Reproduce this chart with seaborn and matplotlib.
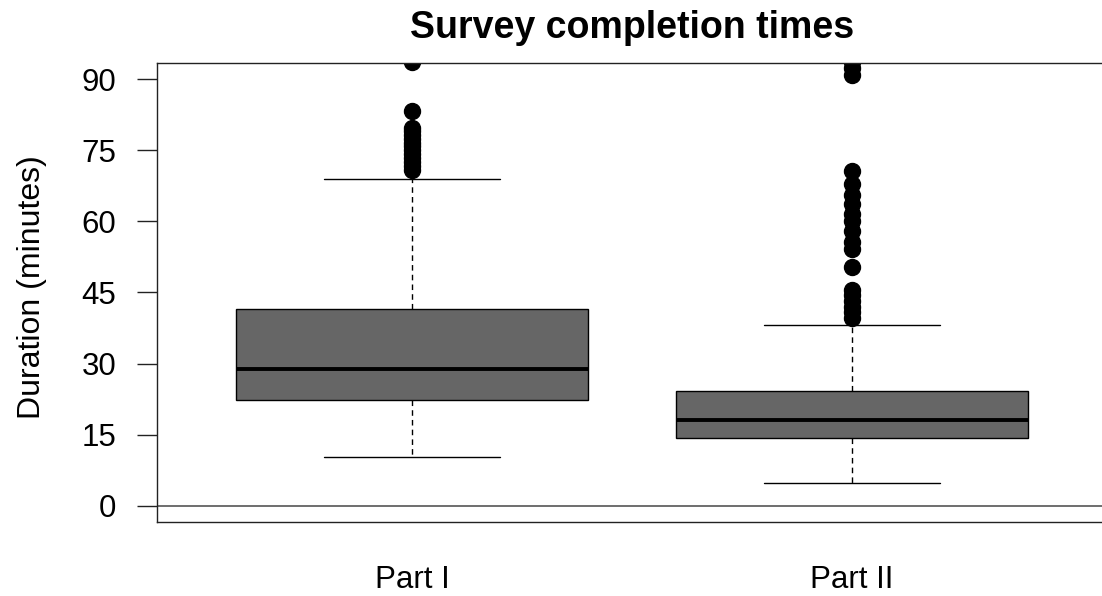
import matplotlib
matplotlib.use("Agg")
import matplotlib.pyplot as plt
import pandas as pd
import seaborn as sns

# Survey parts shown on the x axis
categories = ["Part I", "Part II"]

# Completion times in minutes, Part I
part_i_body = [
    10.3, 12.4, 13.9, 15.0, 15.8, 16.5, 17.1, 17.7, 18.3, 18.9, 19.4, 19.9,
    20.5, 21.0, 21.5, 21.9, 22.3, 22.7, 23.1, 23.5, 23.9, 24.3, 24.7, 25.1,
    25.5, 25.9, 26.4, 26.9, 27.4, 27.8, 28.2, 28.6, 28.9, 29.5, 30.2, 30.9,
    31.6, 32.4, 33.2, 34.0, 34.8, 35.6, 36.5, 37.4, 38.3, 39.2, 40.1, 40.9,
    41.5, 55.0, 68.9,
]
part_i_outliers = [
    70.9, 71.7, 72.5, 73.3, 74.1, 75.0, 75.8, 76.6, 77.4, 78.2, 79.0, 79.7,
    83.3, 93.6,
]

# Completion times in minutes, Part II
part_ii_body = [
    4.8, 6.8, 7.9, 8.7, 9.3, 9.8, 10.3, 10.7, 11.1, 11.5, 11.9, 12.2, 12.5,
    12.8, 13.1, 13.4, 13.7, 13.9, 14.1, 14.2, 14.3, 14.5, 14.7, 14.9, 15.1,
    15.3, 15.5, 15.7, 15.9, 16.1, 16.3, 16.5, 16.7, 16.9, 17.1, 17.3, 17.5,
    17.7, 17.9, 18.0, 18.1, 18.4, 18.7, 19.0, 19.3, 19.6, 19.9, 20.2, 20.5,
    20.8, 21.1, 21.4, 21.7, 22.0, 22.3, 22.6, 22.9, 23.2, 23.5, 23.9, 24.2,
    38.2,
]
part_ii_outliers = [
    39.6, 40.8, 42.0, 43.2, 44.4, 45.5, 50.4, 54.2, 55.7, 58.0, 60.1, 61.6,
    63.7, 65.6, 67.9, 70.7, 90.9, 92.3, 93.6,
]

y_ticks = [0, 15, 30, 45, 60, 75, 90]

sns.set_theme(style="white")
plt.rcParams["font.family"] = ["Liberation Sans", "DejaVu Sans"]
plt.rcParams["text.color"] = "black"
plt.rcParams["axes.labelcolor"] = "black"
plt.rcParams["xtick.color"] = "black"
plt.rcParams["ytick.color"] = "black"

part_i = part_i_body + part_i_outliers
part_ii = part_ii_body + part_ii_outliers
df = pd.DataFrame({
    "part": [categories[0]] * len(part_i) + [categories[1]] * len(part_ii),
    "minutes": part_i + part_ii,
})

W, H = 1102, 596
fig = plt.figure(figsize=(W / 100, H / 100), dpi=100)
fig.patch.set_facecolor("white")
ax = fig.add_axes([157 / W, 73.7 / H, 950 / W, 459.6 / H])

ax.axhline(0, color="#555555", lw=1.2, zorder=0)

sns.boxplot(
    data=df, x="part", y="minutes", order=categories,
    color="#666666", saturation=1, width=0.8,
    linecolor="black", linewidth=1,
    fliersize=11.5,
    flierprops=dict(marker="o", markerfacecolor="black",
                    markeredgecolor="black"),
    medianprops=dict(color="black", linewidth=2.8),
    whiskerprops=dict(color="black", linewidth=1, linestyle=(0, (4, 3))),
    capprops=dict(color="black", linewidth=1),
    ax=ax,
)

ax.set_xlim(-0.58, 1.58)
ax.set_ylim(-3.45, 93.45)
ax.set_yticks(y_ticks)
ax.set_yticklabels([str(t) for t in y_ticks])
ax.set_xlabel("")
ax.set_ylabel("")

ax.tick_params(axis="y", left=True, length=14.4, width=1, color="#222222",
               labelcolor="black", pad=15, labelsize=22.5, direction="out")
ax.tick_params(axis="x", bottom=False, length=0, pad=31, labelsize=22.5,
               labelcolor="black")

for side in ["left", "right", "top", "bottom"]:
    ax.spines[side].set_visible(True)
    ax.spines[side].set_color("#222222")
    ax.spines[side].set_linewidth(1)

ax.set_title("Survey completion times", fontsize=27, fontweight="bold",
             pad=18, color="black")
fig.text(32 / W, 1 - 287 / H, "Duration (minutes)", rotation=90,
         ha="center", va="center", fontsize=23, color="black")

fig.savefig("out.png", dpi=100, facecolor="white")
